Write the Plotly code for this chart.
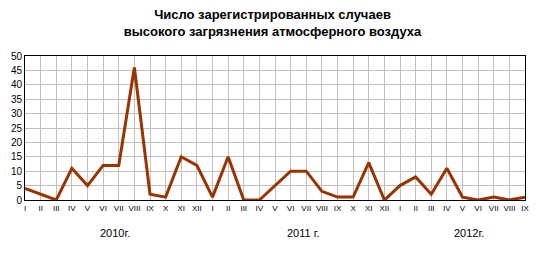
import plotly.graph_objects as go

months = ["I", "II", "III", "IV", "V", "VI", "VII", "VIII", "IX", "X", "XI", "XII",
          "I", "II", "III", "IV", "V", "VI", "VII", "VIII", "IX", "X", "XI", "XII",
          "I", "II", "III", "IV", "V", "VI", "VII", "VIII", "IX"]
values = [4, 2, 0, 11, 5, 12, 12, 46, 2, 1, 15, 12,
          1, 15, 0, 0, 5, 10, 10, 3, 1, 1, 13, 0,
          5, 8, 2, 11, 1, 0, 1, 0, 1]
years = ["2010г.", "2011 г.", "2012г."]
year_pos = [5.76, 17.8, 28.4]

x = list(range(len(months)))

fig = go.Figure()
fig.add_trace(go.Scatter(x=x, y=values, mode="lines",
                         line=dict(color="#993300", width=3), hoverinfo="skip"))

for yr, p in zip(years, year_pos):
    fig.add_annotation(x=p, y=0, xref="x", yref="paper", yshift=-33, text=yr,
                       showarrow=False, font=dict(family="Arial, Liberation Sans", size=11, color="black"),
                       yanchor="middle")

fig.update_layout(
    width=545, height=255,
    margin=dict(l=25, r=20, t=56, b=55),
    paper_bgcolor="white", plot_bgcolor="white",
    showlegend=False,
    title=dict(text="<b>Число зарегистрированных случаев<br>высокого загрязнения атмосферного воздуха</b>",
               x=0.5, xanchor="center", y=0.925, yanchor="top",
               font=dict(family="Arial, Liberation Sans", size=13, color="black")),
    xaxis=dict(range=[0, len(months) - 1], tickvals=x, ticktext=months,
               showgrid=True, gridcolor="#c0c0c0", gridwidth=1,
               showline=True, linecolor="black", linewidth=1, mirror=True,
               ticks="", tickfont=dict(family="Arial, Liberation Sans", size=8, color="black"),
               zeroline=False, fixedrange=True),
    yaxis=dict(range=[0, 50], dtick=5, showgrid=True, gridcolor="#c0c0c0", gridwidth=1,
               showline=True, linecolor="black", linewidth=1, mirror=True,
               ticks="", tickfont=dict(family="Arial, Liberation Sans", size=10, color="black"),
               zeroline=False, fixedrange=True),
)

fig.write_html("out.html")
